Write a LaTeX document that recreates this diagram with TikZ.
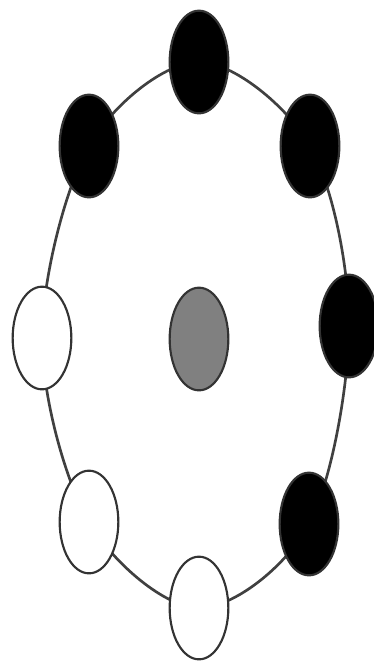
\documentclass[tikz,border=0pt]{standalone}
\usetikzlibrary{shapes.geometric}
\begin{document}
\begin{tikzpicture}[x=0.75pt,y=-0.75pt,
  bead/.style={ellipse,draw=black!80,line width=1.6pt,minimum width=44pt,minimum height=77pt,inner sep=0pt},
  blackbead/.style={bead,fill=black},
  whitebead/.style={bead,fill=white},
  greybead/.style={bead,fill=black!50},
  ring/.style={draw=black!75,line width=2pt}]
\useasboundingbox (0,0) rectangle (374,665);
\coordinate (ct) at (199,62);
\coordinate (cur) at (310,146);
\coordinate (cr) at (349,326);
\coordinate (clr) at (309,524);
\coordinate (cb) at (199,608);
\coordinate (cll) at (89,522);
\coordinate (cl) at (42,338);
\coordinate (cul) at (89,146);
\draw[ring] plot[smooth cycle,tension=0.55] coordinates {(ct) (cur) (cr) (clr) (cb) (cll) (cl) (cul)};
\node[blackbead] (t) at (ct) {};
\node[blackbead] (ur) at (cur) {};
\node[blackbead] (r) at (cr) {};
\node[blackbead] (lr) at (clr) {};
\node[whitebead] (b) at (cb) {};
\node[whitebead] (ll) at (cll) {};
\node[whitebead] (l) at (cl) {};
\node[blackbead] (ul) at (cul) {};
\node[greybead] (c) at (199,339) {};
\end{tikzpicture}
\end{document}
